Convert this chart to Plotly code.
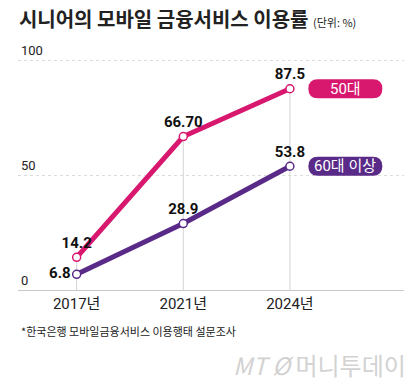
import plotly.graph_objects as go

# ---- data ----
years = ["2017년", "2021년", "2024년"]
series_names = ["50대", "60대 이상"]
values_50s = [14.2, 66.7, 87.5]
values_60s = [6.8, 28.9, 53.8]
labels_50s = ["14.2", "66.70", "87.5"]
labels_60s = ["6.8", "28.9", "53.8"]
y_ticks = [0, 50, 100]

PINK = "#D8176F"
PURPLE = "#5A2A88"
NARROW = "Liberation Sans Narrow, Arial Narrow, Roboto, Noto Sans CJK KR, sans-serif"
CJK = "Noto Sans CJK KR, sans-serif"

xs = list(range(len(years)))

fig = go.Figure()

# drop lines from top marker to axis
drop_x, drop_y = [], []
for i in xs:
    drop_x += [i, i, None]
    drop_y += [0, max(values_50s[i], values_60s[i]), None]
fig.add_trace(go.Scatter(x=drop_x, y=drop_y, mode="lines",
                         line=dict(color="#d4d4d4", width=1),
                         hoverinfo="skip", showlegend=False))

def add_series(vals, labels, color, positions):
    fig.add_trace(go.Scatter(
        x=xs, y=vals, mode="lines+markers+text",
        line=dict(color=color, width=5),
        marker=dict(size=8, color="white", line=dict(color=color, width=1.5)),
        text=labels, textposition=positions,
        textfont=dict(family=NARROW, size=15, color="#111", weight="bold"),
        cliponaxis=False, showlegend=False))

add_series(values_50s, labels_50s, PINK, ["top center"] * 3)
add_series(values_60s, labels_60s, PURPLE, ["middle left", "top center", "top center"])

# series name pills at the end of each line
def pill(w, h):
    r = h / 2
    x0, x1, y0, y1 = -w / 2, w / 2, -h / 2, h / 2
    return (f"M {x0+r},{y0} L {x1-r},{y0} Q {x1},{y0} {x1},{y0+r} "
            f"Q {x1},{y1} {x1-r},{y1} L {x0+r},{y1} Q {x0},{y1} {x0},{y1-r} "
            f"Q {x0},{y0} {x0+r},{y0} Z")

for name, vals, color in [(series_names[0], values_50s, PINK),
                          (series_names[1], values_60s, PURPLE)]:
    fig.add_shape(type="path", xref="x", yref="y", xsizemode="pixel", ysizemode="pixel",
                  xanchor=2.52, yanchor=vals[-1], path=pill(74, 19),
                  fillcolor=color, line=dict(width=0), layer="above")
    fig.add_annotation(x=2.52, y=vals[-1], xref="x", yref="y", text=name,
                       showarrow=False, font=dict(family=NARROW, size=15, color="white"))

fig.update_layout(
    width=420, height=384,
    margin=dict(l=18, r=16, t=37, b=94, autoexpand=False),
    paper_bgcolor="white", plot_bgcolor="white",
    title=dict(
        text="<b>시니어의 모바일 금융서비스 이용률</b> <span style='font-size:11px'>(단위: %)</span>",
        x=0.045, xanchor="left", xref="container",
        y=1 - 20 / 384, yanchor="middle", yref="container",
        font=dict(family=CJK, size=20, color="#222")),
    xaxis=dict(range=[-0.55, 3.07], tickvals=xs, ticktext=years, automargin=False,
               showgrid=False, zeroline=False, showline=True,
               linecolor="#c8c8c8", linewidth=1, ticks="",
               tickfont=dict(family=NARROW, size=15, color="#222")),
    yaxis=dict(range=[0, 110], tickvals=y_ticks, ticklabelposition="inside top",
               automargin=False,
               showgrid=True, gridcolor="#dcdcdc", griddash="dot", gridwidth=1,
               zeroline=False, showline=False, ticks="",
               tickfont=dict(family=NARROW, size=13, color="#222")),
    font=dict(family=CJK),
)

fig.add_annotation(text="*한국은행 모바일금융서비스 이용행태 설문조사",
                   xref="paper", yref="paper", x=0.003, y=-0.164,
                   xanchor="left", yanchor="middle", showarrow=False,
                   font=dict(family=CJK, size=11, color="#222"))

fig.add_annotation(text="<i>MT</i> <i>Ø</i> 머니투데이",
                   xref="paper", yref="paper", x=1.01, y=-0.295,
                   xanchor="right", yanchor="middle", showarrow=False,
                   font=dict(family=CJK, size=24, color="#d2d2d2"))

fig.write_html("out.html", config={"displayModeBar": False},
               post_script="document.body.style.margin='0';document.body.style.padding='0';")
